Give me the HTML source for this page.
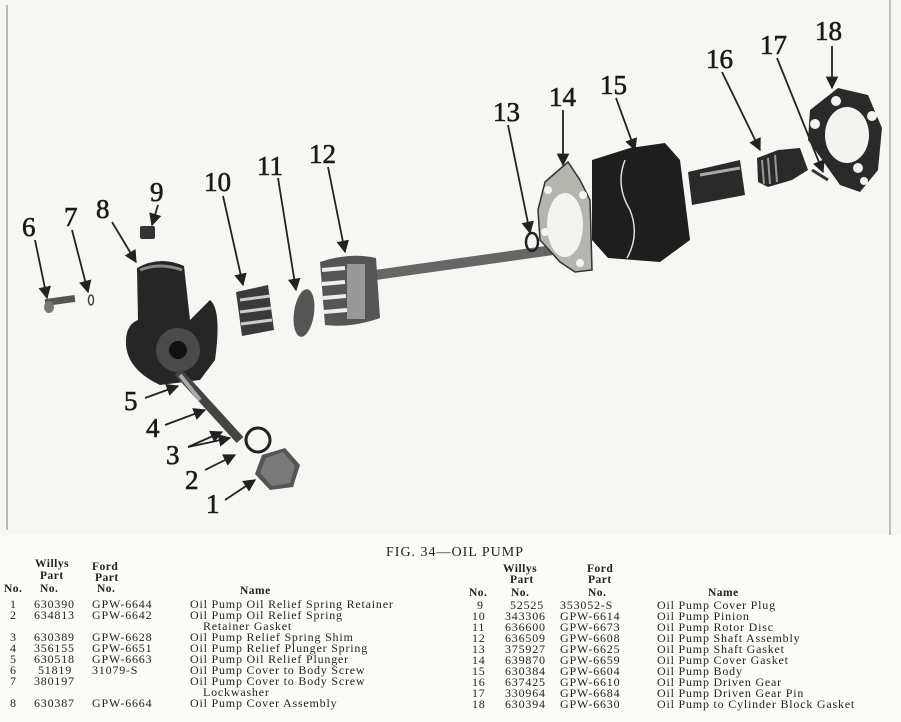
<!DOCTYPE html>
<html><head><meta charset="utf-8"><style>
html,body{margin:0;padding:0;background:#fbfbf8;}
svg{display:block;}
.n{font-family:"Liberation Serif",serif;font-size:27px;fill:#1a1a1a;stroke:#1a1a1a;stroke-width:0.6;}
.t{font-family:"Liberation Serif",serif;font-size:12px;fill:#222;letter-spacing:0.8px;}
.h{font-family:"Liberation Serif",serif;font-size:11.5px;font-weight:bold;fill:#222;letter-spacing:0.5px;}
.cap{font-family:"Liberation Serif",serif;font-size:14px;fill:#222;letter-spacing:1px;}
</style></head><body>
<svg width="901" height="722" viewBox="0 0 901 722" xmlns="http://www.w3.org/2000/svg">
<defs>
<marker id="a" viewBox="0 0 10 10" refX="9" refY="5" markerWidth="7" markerHeight="7" orient="auto-start-reverse"><path d="M0,0 L10,5 L0,10 z" fill="#222"/></marker>
</defs>
<rect width="901" height="722" fill="#fbfbf8"/>
<rect x="0" y="0" width="901" height="535" fill="#f6f6f2"/>
<line x1="7" y1="5" x2="7" y2="530" stroke="#bbb" stroke-width="2"/>
<line x1="890" y1="0" x2="890" y2="535" stroke="#aaa" stroke-width="1.5"/>

<text class="n" x="22" y="236">6</text>
<text class="n" x="64" y="226">7</text>
<text class="n" x="96" y="218">8</text>
<text class="n" x="150" y="201">9</text>
<text class="n" x="204" y="191">10</text>
<text class="n" x="257" y="175">11</text>
<text class="n" x="309" y="163">12</text>
<text class="n" x="493" y="121">13</text>
<text class="n" x="549" y="106">14</text>
<text class="n" x="600" y="94">15</text>
<text class="n" x="706" y="68">16</text>
<text class="n" x="760" y="54">17</text>
<text class="n" x="815" y="40">18</text>
<text class="n" x="124" y="410">5</text>
<text class="n" x="146" y="437">4</text>
<text class="n" x="166" y="464">3</text>
<text class="n" x="185" y="489">2</text>
<text class="n" x="206" y="513">1</text>

<g stroke="#222" stroke-width="1.8" fill="none" marker-end="url(#a)">
<line x1="35" y1="240" x2="47" y2="298"/>
<line x1="72" y1="230" x2="88" y2="292"/>
<line x1="112" y1="222" x2="136" y2="262"/>
<line x1="158" y1="205" x2="152" y2="225"/>
<line x1="223" y1="196" x2="243" y2="285"/>
<line x1="278" y1="178" x2="296" y2="290"/>
<line x1="328" y1="167" x2="345" y2="252"/>
<line x1="508" y1="125" x2="530" y2="233"/>
<line x1="563" y1="110" x2="563" y2="165"/>
<line x1="616" y1="98" x2="635" y2="150"/>
<line x1="722" y1="72" x2="760" y2="150"/>
<line x1="777" y1="58" x2="823" y2="172"/>
<line x1="832" y1="46" x2="832" y2="88"/>
<line x1="145" y1="398" x2="178" y2="386"/>
<line x1="165" y1="425" x2="205" y2="410"/>
<line x1="188" y1="447" x2="222" y2="432"/>
<line x1="188" y1="447" x2="230" y2="438"/>
<line x1="205" y1="470" x2="235" y2="455"/>
<line x1="225" y1="500" x2="255" y2="480"/>
</g>

<rect x="45" y="297" width="30" height="7" fill="#555" transform="rotate(-8 60 300)"/>
<ellipse cx="49" cy="307" rx="5" ry="6" fill="#777"/>
<ellipse cx="91" cy="300" rx="2.5" ry="5" fill="none" stroke="#444" stroke-width="1.5"/>
<rect x="140" y="226" width="15" height="13" fill="#333" rx="2"/>
<path d="M137,268 Q160,255 184,266 L190,320 L210,300 Q222,310 215,360 L200,380 L160,385 Q128,370 126,345 Q125,325 138,320 Z" fill="#262626"/>
<path d="M140,270 Q160,262 182,270" stroke="#888" stroke-width="3" fill="none"/>
<circle cx="178" cy="350" r="22" fill="#4a4a4a"/>
<circle cx="178" cy="350" r="9" fill="#111"/>
<path d="M178,372 L240,440" stroke="#444" stroke-width="9"/>
<path d="M180,375 L200,400" stroke="#aaa" stroke-width="4"/>
<circle cx="258" cy="440" r="12" fill="none" stroke="#222" stroke-width="3"/>
<polygon points="262,455 285,448 300,465 293,487 270,490 255,474" fill="#555"/>
<polygon points="266,458 283,452 295,466 290,483 272,486 260,473" fill="#7a7a7a"/>
<path d="M236,292 L268,285 L274,330 L242,336 Z" fill="#3a3a3a"/>
<g stroke="#ccc" stroke-width="3"><line x1="240" y1="300" x2="270" y2="296"/><line x1="240" y1="312" x2="271" y2="308"/><line x1="241" y1="324" x2="272" y2="320"/></g>
<ellipse cx="304" cy="313" rx="10" ry="24" fill="#555" transform="rotate(8 304 313)"/>
<rect x="375" y="270" width="215" height="10" fill="#666" transform="rotate(-8 375 275)"/>
<path d="M320,262 Q350,252 376,258 L380,318 Q352,328 325,325 Z" fill="#555"/>
<g stroke="#eee" stroke-width="4"><line x1="322" y1="270" x2="345" y2="268"/><line x1="322" y1="284" x2="345" y2="282"/><line x1="323" y1="298" x2="346" y2="296"/><line x1="324" y1="312" x2="347" y2="310"/></g>
<rect x="347" y="264" width="18" height="55" fill="#999"/>
<ellipse cx="532" cy="242" rx="6" ry="9" fill="none" stroke="#222" stroke-width="2.5"/>
<path d="M545,182 L568,162 L580,180 L590,200 L592,270 L575,272 L560,262 L540,240 L538,210 Z" fill="#b5b5b0" stroke="#333" stroke-width="1.5"/>
<ellipse cx="565" cy="225" rx="18" ry="32" fill="#f3f3ef"/>
<g fill="#f3f3ef"><circle cx="548" cy="190" r="4"/><circle cx="583" cy="195" r="4"/><circle cx="545" cy="232" r="4"/><circle cx="580" cy="263" r="4"/></g>
<path d="M592,160 L630,148 L665,143 L680,160 L690,240 L660,262 L608,258 L592,240 Z" fill="#1e1e1e"/>
<path d="M625,160 Q615,185 630,210 Q640,235 627,258" stroke="#ddd" stroke-width="1.5" fill="none"/>
<path d="M688,172 L740,160 L745,195 L692,205 Z" fill="#2a2a2a"/>
<path d="M700,175 L740,168" stroke="#aaa" stroke-width="3"/>
<path d="M757,158 L778,150 L800,148 L808,170 L792,180 L768,187 L758,182 Z" fill="#2a2a2a"/>
<g stroke="#999" stroke-width="2"><line x1="762" y1="160" x2="764" y2="184"/><line x1="768" y1="158" x2="770" y2="184"/><line x1="775" y1="155" x2="777" y2="182"/></g>
<line x1="812" y1="170" x2="828" y2="180" stroke="#333" stroke-width="3"/>
<path d="M810,110 L838,88 L868,95 L882,128 L878,170 L860,192 L840,185 L808,140 Z" fill="#2a2a2a"/>
<ellipse cx="847" cy="135" rx="22" ry="28" fill="#f3f3ef"/>
<g fill="#f3f3ef"><circle cx="836" cy="101" r="5"/><circle cx="872" cy="116" r="5"/><circle cx="815" cy="124" r="5"/><circle cx="858" cy="168" r="5"/><circle cx="864" cy="181" r="4"/></g>

<text class="cap" x="386" y="556">FIG. 34—OIL PUMP</text>

<g class="h"><text x="35" y="567">Willys</text><text x="92" y="570">Ford</text>
<text x="40" y="579">Part</text><text x="95" y="581">Part</text>
<text x="4" y="592">No.</text><text x="40" y="592">No.</text><text x="97" y="592">No.</text><text x="240" y="594">Name</text></g>
<g class="t">
<text x="10" y="608">1</text><text x="34" y="608">630390</text><text x="92" y="608">GPW-6644</text><text x="190" y="608">Oil Pump Oil Relief Spring Retainer</text>
<text x="10" y="619">2</text><text x="34" y="619">634813</text><text x="92" y="619">GPW-6642</text><text x="190" y="619">Oil Pump Oil Relief Spring</text>
<text x="203" y="630">Retainer Gasket</text>
<text x="10" y="641">3</text><text x="34" y="641">630389</text><text x="92" y="641">GPW-6628</text><text x="190" y="641">Oil Pump Relief Spring Shim</text>
<text x="10" y="652">4</text><text x="34" y="652">356155</text><text x="92" y="652">GPW-6651</text><text x="190" y="652">Oil Pump Relief Plunger Spring</text>
<text x="10" y="663">5</text><text x="34" y="663">630518</text><text x="92" y="663">GPW-6663</text><text x="190" y="663">Oil Pump Oil Relief Plunger</text>
<text x="10" y="674">6</text><text x="38" y="674">51819</text><text x="92" y="674">31079-S</text><text x="190" y="674">Oil Pump Cover to Body Screw</text>
<text x="10" y="685">7</text><text x="34" y="685">380197</text><text x="190" y="685">Oil Pump Cover to Body Screw</text>
<text x="203" y="696">Lockwasher</text>
<text x="10" y="707">8</text><text x="34" y="707">630387</text><text x="92" y="707">GPW-6664</text><text x="190" y="707">Oil Pump Cover Assembly</text>
</g>

<g class="h"><text x="503" y="572">Willys</text><text x="587" y="572">Ford</text>
<text x="510" y="583">Part</text><text x="588" y="583">Part</text>
<text x="469" y="596">No.</text><text x="511" y="596">No.</text><text x="588" y="596">No.</text><text x="708" y="596">Name</text></g>
<g class="t">
<text x="477" y="609">9</text><text x="510" y="609">52525</text><text x="560" y="609">353052-S</text><text x="657" y="609">Oil Pump Cover Plug</text>
<text x="472" y="620">10</text><text x="505" y="620">343306</text><text x="560" y="620">GPW-6614</text><text x="657" y="620">Oil Pump Pinion</text>
<text x="472" y="631">11</text><text x="505" y="631">636600</text><text x="560" y="631">GPW-6673</text><text x="657" y="631">Oil Pump Rotor Disc</text>
<text x="472" y="642">12</text><text x="505" y="642">636509</text><text x="560" y="642">GPW-6608</text><text x="657" y="642">Oil Pump Shaft Assembly</text>
<text x="472" y="653">13</text><text x="505" y="653">375927</text><text x="560" y="653">GPW-6625</text><text x="657" y="653">Oil Pump Shaft Gasket</text>
<text x="472" y="664">14</text><text x="505" y="664">639870</text><text x="560" y="664">GPW-6659</text><text x="657" y="664">Oil Pump Cover Gasket</text>
<text x="472" y="675">15</text><text x="505" y="675">630384</text><text x="560" y="675">GPW-6604</text><text x="657" y="675">Oil Pump Body</text>
<text x="472" y="686">16</text><text x="505" y="686">637425</text><text x="560" y="686">GPW-6610</text><text x="657" y="686">Oil Pump Driven Gear</text>
<text x="472" y="697">17</text><text x="505" y="697">330964</text><text x="560" y="697">GPW-6684</text><text x="657" y="697">Oil Pump Driven Gear Pin</text>
<text x="472" y="708">18</text><text x="505" y="708">630394</text><text x="560" y="708">GPW-6630</text><text x="657" y="708">Oil Pump to Cylinder Block Gasket</text>
</g>
</svg>
</body></html>
